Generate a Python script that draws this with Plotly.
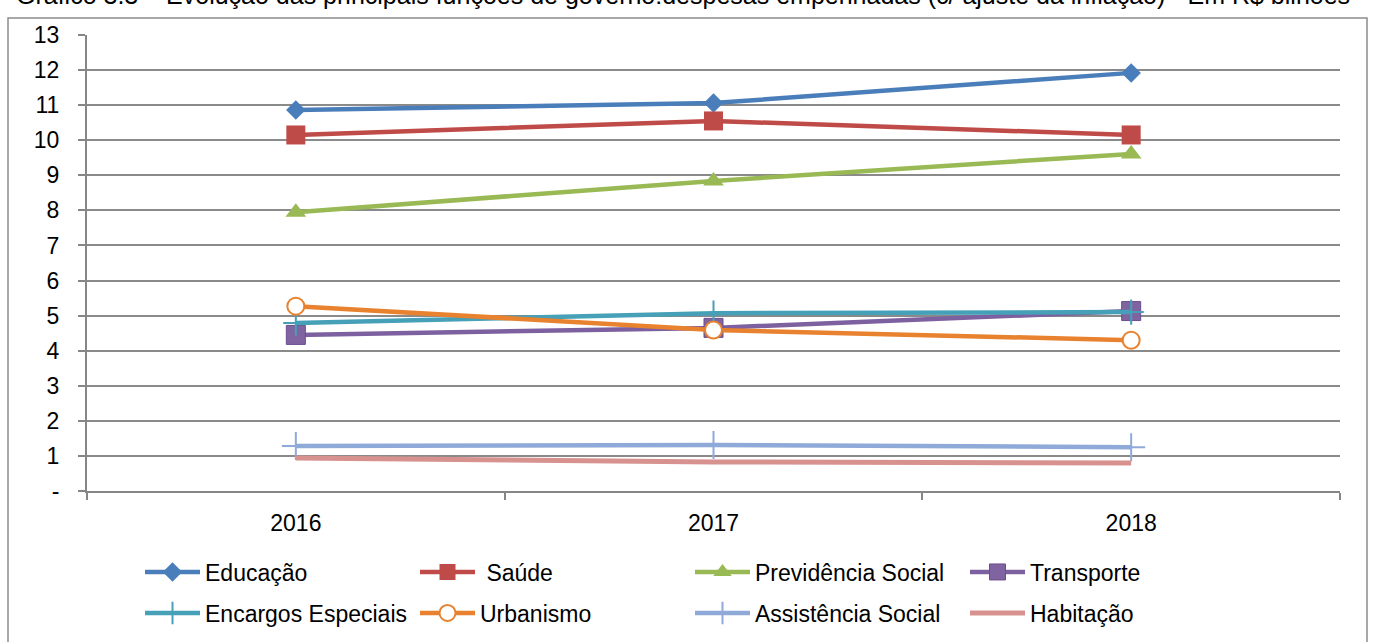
import plotly.graph_objects as go

years = ["2016", "2017", "2018"]

educacao = [10.86, 11.06, 11.92]
saude = [10.15, 10.55, 10.15]
previdencia = [7.95, 8.84, 9.61]
transporte = [4.45, 4.65, 5.13]
encargos = [4.79, 5.07, 5.10]
urbanismo = [5.27, 4.59, 4.30]
assistencia = [1.28, 1.31, 1.25]
habitacao = [0.94, 0.83, 0.80]

y_ticks = list(range(0, 14))
y_tick_text = ["-"] + [str(v) for v in range(1, 14)]

title_text = ("Gráfico 3.3 – Evolução das principais funções de governo:despesas "
              "empenhadas (c/ ajuste da inflação) - Em R$ bilhões")

FONT = "Liberation Sans, Arial, sans-serif"
FS = 23

series = [
    ("Educação", educacao, "#4A7EBB", dict(symbol="diamond", size=15, color="#4A7EBB")),
    (" Saúde", saude, "#BE4B48", dict(symbol="square", size=19, color="#BE4B48")),
    ("Previdência Social", previdencia, "#98B954", dict(symbol="triangle-up", size=18, color="#98B954")),
    ("Transporte", transporte, "#7D60A0", dict(symbol="square", size=19, color="#8064A2",
                                               line=dict(color="#6A4F8C", width=1))),
    ("Encargos Especiais", encargos, "#46A0B8", dict(symbol="cross-thin", size=18, color="#46A0B8",
                                                     line=dict(color="#46A0B8", width=2))),
    ("Urbanismo", urbanismo, "#E8822E", dict(symbol="circle", size=17, color="white",
                                             line=dict(color="#E8822E", width=2))),
    ("Assistência Social", assistencia, "#8FAAD8", dict(symbol="cross-thin", size=20, color="#8FAAD8",
                                                       line=dict(color="#8FAAD8", width=2))),
    ("Habitação", habitacao, "#D79290", None),
]

fig = go.Figure()
for i, (name, vals, color, marker) in enumerate(series):
    legend_id = "legend" if i < 4 else "legend2"
    if marker is None:
        fig.add_trace(go.Scatter(x=years, y=vals, name=name, mode="lines", legend=legend_id,
                                 line=dict(color=color, width=5)))
    else:
        fig.add_trace(go.Scatter(x=years, y=vals, name=name, mode="lines+markers", legend=legend_id,
                                 line=dict(color=color, width=4.5), marker=marker))

L, R, T, B = 87, 1340, 35, 491
W, H = 1375, 642
pw, ph = R - L, B - T


def px_x(p):
    return (p - L) / pw


def px_y(p):
    return (B - p) / ph


# outer frame around the chart
fig.add_shape(type="rect", xref="paper", yref="paper",
              x0=px_x(8), x1=px_x(1367), y0=px_y(660), y1=px_y(18),
              line=dict(color="#8C8C8C", width=1.5), layer="below")

fig.add_annotation(text=title_text, xref="paper", yref="paper",
                   x=px_x(683), y=px_y(-5), xanchor="center", yanchor="middle",
                   showarrow=False, font=dict(family=FONT, size=25, color="black"))

# legends are placed in container coordinates so they do not push the margins
legend_common = dict(orientation="h", xanchor="left", yanchor="middle",
                     xref="container", yref="container",
                     entrywidth=205, entrywidthmode="pixels", itemwidth=55,
                     font=dict(family=FONT, size=FS, color="black"),
                     itemclick=False, bgcolor="rgba(0,0,0,0)")

fig.update_layout(
    width=W, height=H,
    margin=dict(l=L, r=W - R, t=T, b=H - B),
    paper_bgcolor="white", plot_bgcolor="white",
    font=dict(family=FONT, size=FS, color="black"),
    showlegend=True,
    legend=dict(x=140 / W, y=1 - 572 / H, **legend_common),
    legend2=dict(x=140 / W, y=1 - 613 / H, **legend_common),
    xaxis=dict(type="category", range=[-0.5, 2.5], showgrid=False,
               showline=True, linecolor="#868686", linewidth=2,
               ticks="outside", tickson="boundaries", ticklen=7,
               tickcolor="#868686", tickwidth=2, automargin=False,
               ticklabelstandoff=10,
               tickfont=dict(family=FONT, size=FS), zeroline=False),
    yaxis=dict(range=[0, 13], tickvals=y_ticks, ticktext=y_tick_text,
               showgrid=True, gridcolor="#8A8A8A", gridwidth=2,
               showline=True, linecolor="#868686", linewidth=2,
               ticks="outside", ticklen=7, tickcolor="#868686", tickwidth=2,
               automargin=False, ticklabelstandoff=14,
               tickfont=dict(family=FONT, size=FS), zeroline=False),
)

fig.write_html("out.html")
